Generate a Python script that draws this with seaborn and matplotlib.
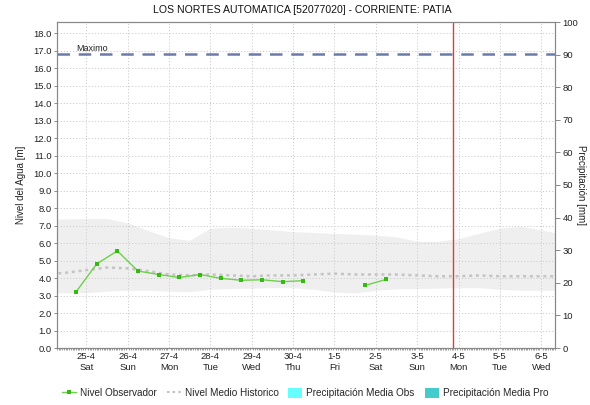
import matplotlib
matplotlib.use("Agg")
import matplotlib.pyplot as plt
import matplotlib.dates as mdates
from matplotlib.lines import Line2D
from matplotlib.patches import Patch
import seaborn as sns
import pandas as pd
import numpy as np

# ---------------- data ----------------
title = "LOS NORTES AUTOMATICA [52077020] - CORRIENTE: PATIA"

obs_times = ["2026-04-24 18:00", "2026-04-25 06:00", "2026-04-25 18:00", "2026-04-26 06:00",
             "2026-04-26 18:00", "2026-04-27 06:00", "2026-04-27 18:00", "2026-04-28 06:00",
             "2026-04-28 18:00", "2026-04-29 06:00", "2026-04-29 18:00", "2026-04-30 06:00",
             "2026-05-01 18:00", "2026-05-02 06:00"]
obs_level = [3.2, 4.8, 5.55, 4.4, 4.2, 4.03, 4.2, 3.98, 3.87, 3.9, 3.79, 3.85, 3.58, 3.92]
obs_segment = [0] * 12 + [1] * 2

hist_times = pd.date_range("2026-04-24 00:00", "2026-05-06 12:00", freq="12h")
hist_upper = [7.35, 7.37, 7.4, 7.4, 7.15, 6.7, 6.3, 6.15, 6.85, 6.9, 6.85, 6.75, 6.65, 6.6,
              6.55, 6.5, 6.45, 6.35, 6.1, 6.1, 6.25, 6.55, 6.85, 6.95, 6.75, 6.5]
hist_lower = [3.16, 3.16, 3.16, 3.25, 3.3, 3.3, 3.25, 3.22, 3.35, 3.4, 3.42, 3.45, 3.45, 3.35,
              3.2, 3.15, 3.3, 3.38, 3.4, 3.42, 3.45, 3.45, 3.35, 3.3, 3.3, 3.3]
hist_median = [4.2, 4.3, 4.45, 4.6, 4.55, 4.4, 4.2, 4.15, 4.2, 4.15, 4.1, 4.15, 4.15, 4.2,
               4.25, 4.2, 4.2, 4.2, 4.15, 4.1, 4.1, 4.15, 4.1, 4.1, 4.1, 4.1]

maximo = 16.8
now_time = "2026-05-03 21:00"

tick_days = pd.date_range("2026-04-25", "2026-05-06", freq="D")
tick_labels = ["25-4\nSat", "26-4\nSun", "27-4\nMon", "28-4\nTue", "29-4\nWed", "30-4\nThu",
               "1-5\nFri", "2-5\nSat", "3-5\nSun", "4-5\nMon", "5-5\nTue", "6-5\nWed"]

legend_labels = ["Nivel Observador", "Nivel Medio Historico",
                 "Precipitación Media Obs", "Precipitación Media Pro"]

# ---------------- plot ----------------
sns.set_theme(style="white")
plt.rcParams['font.family'] = ['Liberation Sans', 'DejaVu Sans']

fig = plt.figure(figsize=(5.9, 4.05), dpi=100)
ax = fig.add_axes([57/590, 1-348/405, (555-57)/590, (348-22)/405])

obs_df = pd.DataFrame({"t": pd.to_datetime(obs_times), "nivel": obs_level, "seg": obs_segment})
hist_df = pd.DataFrame({"t": hist_times, "up": hist_upper, "lo": hist_lower, "med": hist_median})

ax.fill_between(hist_df["t"], hist_df["lo"], hist_df["up"], color="#efefef", lw=0, zorder=1)
sns.lineplot(data=hist_df, x="t", y="med", ax=ax, color="#c4c4c4", lw=1.8,
             linestyle=(0, (1.2, 1.5)), zorder=2, legend=False)

sns.lineplot(data=obs_df, x="t", y="nivel", units="seg", estimator=None, ax=ax,
             color="#6fd04a", lw=1.0, marker="s", markersize=3.0, markeredgewidth=0,
             markerfacecolor="#33bb11", zorder=4, legend=False)

ax.axhline(maximo, color="#6a7bab", lw=1.8, dashes=(5, 3.5), zorder=3)
ax.text(pd.Timestamp("2026-04-24 18:00"), maximo + 0.08, "Maximo", fontsize=6.5,
        color="#222222", va="bottom", ha="left")
ax.axvline(pd.Timestamp(now_time), color="#e03c3c", lw=1.0, zorder=5)

ax.set_xlim(pd.Timestamp("2026-04-24 07:00"), pd.Timestamp("2026-05-06 08:00"))
ax.set_ylim(0, 18.63)
ax.set_xticks(tick_days)
ax.set_xticklabels(tick_labels, fontsize=6.8, linespacing=1.25)
ax.xaxis.set_minor_locator(mdates.HourLocator(interval=1))
ax.set_yticks(np.arange(0, 18.5, 1.0))
ax.set_yticklabels([f"{v:.1f}" for v in np.arange(0, 18.5, 1.0)], fontsize=6.8)
ax.tick_params(axis="x", which="major", length=0, pad=3, colors="#222222")
ax.tick_params(axis="x", which="minor", length=1.5, width=0.5, color="#777777", bottom=True)
ax.tick_params(axis="y", which="major", length=2, width=0.6, color="#777777", pad=2, left=True)
for lab in ax.get_yticklabels():
    lab.set_color("#222222")
ax.grid(True, color="#cccccc", lw=0.7, linestyle=(0, (1.2, 2)))
ax.set_axisbelow(False)
for s in ax.spines.values():
    s.set_color("#888888")
    s.set_linewidth(0.8)
ax.set_xlabel("")
ax.set_ylabel("Nivel del Agua [m]", fontsize=7, color="#222222")
ax.yaxis.set_label_coords((26 - 57) / 498, 0.5)

ax2 = ax.twinx()
ax2.set_ylim(0, 100)
ax2.set_yticks(np.arange(0, 101, 10))
ax2.set_yticklabels([str(v) for v in range(0, 101, 10)], fontsize=6.8)
ax2.tick_params(axis="y", length=3.5, width=0.6, color="#777777", pad=2, labelcolor="#222222")
ax2.set_ylabel("Precipitación [mm]", fontsize=7, rotation=270, color="#222222", va="center")
ax2.yaxis.set_label_coords((581 - 57) / 498, 0.5)
ax2.grid(False)
for s in ax2.spines.values():
    s.set_color("#888888")
    s.set_linewidth(0.8)

fig.text(0.513, 1-10/405, title, ha="center", va="center", fontsize=7.6, color="#111111")

handles = [
    Line2D([0], [0], color="#6fd04a", lw=1.0, marker="s", markersize=3, markerfacecolor="#33bb11", markeredgewidth=0),
    Line2D([0], [0], color="#c4c4c4", lw=1.5, linestyle=(0, (1.2, 1.5))),
    Patch(facecolor="#66ffff", edgecolor="none"),
    Patch(facecolor="#44cccc", edgecolor="none"),
]
fig.legend(handles, legend_labels, loc="center", bbox_to_anchor=(0.517, 1-393/405), ncol=4,
           frameon=False, fontsize=7.2, handlelength=1.4, handleheight=1.2, handletextpad=0.4,
           columnspacing=1.0, borderaxespad=0)

fig.savefig("out.png", dpi=100)
